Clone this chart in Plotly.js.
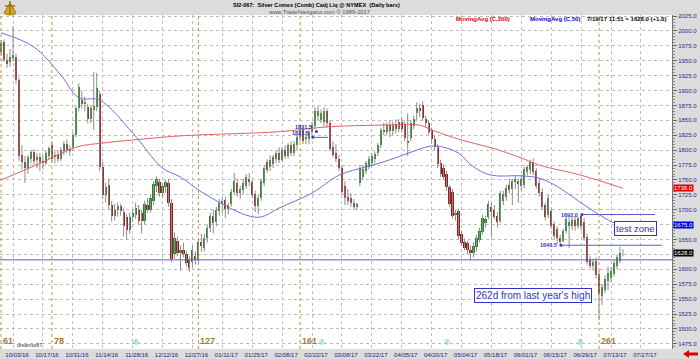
<!DOCTYPE html>
<html><head><meta charset="utf-8">
<script src="https://cdn.plot.ly/plotly-3.0.1.min.js"></script>
<style>html,body{margin:0;padding:0;background:#dcdcdc;overflow:hidden}#chart{width:700px;height:359px}</style>
</head><body><div id="chart"></div>
<script>
// ---- data (bar index 0 = 10/03/16) ----
const firstIdx = -4;
const O=[1965,1981,1951,1948,1955,1956,1918,1792,1780,1770,
1786,1797,1784,1788,1782,1779,1790,1808,1788,1792,
1786,1798,1810,1802,1806,1826,1871,1884,1878,1872,
1852,1868,1872,1895,1772,1724,1742,1708,1690,1700,
1706,1696,1688,1666,1688,1692,1700,1694,1682,1708,
1700,1715,1740,1747,1728,1738,1745,1712,1625,1648,
1628,1632,1625,1616,1612,1622,1616,1646,1636,1652,
1670,1690,1680,1698,1710,1716,1702,1710,1730,1745,
1728,1733,1740,1752,1746,1726,1706,1720,1745,1780,
1772,1776,1786,1795,1783,1800,1790,1808,1796,1808,
1822,1835,1818,1818,1830,1840,1858,1850,1848,1866,
1845,1805,1795,1786,1770,1740,1722,1720,1712,1704,
1745,1755,1765,1772,1778,1785,1796,1808,1834,1830,
1842,1832,1843,1836,1848,1842,1815,1820,1840,1862,
1870,1876,1852,1846,1834,1818,1806,1778,1770,1760,
1738,1730,1692,1698,1660,1646,1644,1632,1628,1638,
1650,1662,1678,1688,1705,1700,1690,1682,1714,1722,
1742,1735,1746,1748,1740,1742,1764,1766,1780,1765,
1745,1730,1708,1692,1698,1676,1668,1652,1648,1664,
1672,1672,1683,1672,1690,1680,1655,1616,1606,1614,
1592,1556,1566,1580,1586,1592,1606,1614,1627];
const H=[1985,1986,1962,1970,2008,1962,1922,1808,1790,1792,
1800,1802,1795,1795,1792,1800,1806,1815,1798,1800,
1805,1815,1818,1808,1830,1875,1912,1900,1890,1878,
1875,1931,1930,1900,1780,1745,1752,1715,1710,1712,
1710,1702,1692,1695,1700,1712,1708,1700,1715,1720,
1725,1748,1756,1752,1745,1750,1752,1718,1662,1655,
1640,1645,1630,1622,1640,1630,1650,1660,1660,1675,
1695,1700,1705,1718,1720,1722,1712,1735,1762,1752,
1740,1752,1760,1762,1750,1732,1725,1752,1775,1785,
1792,1792,1800,1805,1805,1808,1812,1815,1815,1826,
1840,1840,1832,1835,1848,1872,1874,1868,1872,1870,
1850,1815,1810,1792,1774,1748,1735,1728,1718,1712,
1775,1775,1782,1790,1795,1798,1812,1838,1846,1846,
1850,1848,1852,1852,1855,1848,1862,1850,1858,1880,
1878,1882,1858,1850,1838,1825,1810,1784,1776,1765,
1742,1735,1700,1702,1665,1652,1648,1640,1646,1658,
1670,1692,1690,1715,1712,1708,1696,1732,1732,1742,
1752,1752,1758,1752,1758,1772,1775,1784,1786,1770,
1752,1736,1712,1725,1702,1680,1672,1658,1668,1690,
1688,1688,1690,1688,1692,1686,1660,1622,1618,1620,
1598,1575,1590,1605,1604,1615,1625,1638,1634];
const L=[1958,1948,1938,1940,1950,1912,1782,1768,1745,1760,
1778,1775,1770,1765,1768,1775,1785,1780,1778,1780,
1782,1792,1795,1790,1800,1822,1865,1870,1865,1845,
1845,1834,1865,1765,1718,1712,1700,1680,1682,1688,
1690,1655,1650,1660,1680,1685,1675,1660,1676,1695,
1695,1708,1730,1722,1720,1728,1705,1612,1618,1622,
1598,1620,1605,1596,1604,1608,1610,1630,1630,1645,
1662,1660,1672,1690,1695,1686,1692,1705,1725,1722,
1718,1726,1735,1740,1720,1696,1693,1715,1740,1762,
1765,1770,1778,1778,1780,1785,1786,1790,1790,1800,
1815,1810,1810,1810,1822,1835,1850,1845,1840,1838,
1798,1788,1780,1765,1725,1708,1708,1705,1700,1699,
1740,1750,1760,1768,1772,1778,1790,1803,1825,1826,
1822,1825,1828,1830,1830,1815,1790,1815,1835,1850,
1855,1850,1838,1826,1812,1800,1770,1755,1750,1732,
1705,1685,1682,1650,1640,1632,1625,1616,1620,1630,
1645,1658,1670,1684,1655,1684,1670,1678,1708,1715,
1728,1708,1735,1712,1732,1736,1758,1760,1758,1735,
1722,1700,1682,1686,1668,1652,1642,1640.5,1645,1660,
1636,1666,1665,1668,1665,1648,1608,1602,1598,1585,
1515,1540,1560,1565,1578,1588,1600,1610,1622];
const C=[1980,1951,1944,1956,1960,1918,1790,1780,1770,1788,
1797,1782,1788,1780,1779,1796,1803,1786,1792,1786,
1800,1810,1800,1798,1826,1870,1906,1877,1880,1852,
1870,1874,1905,1772,1724,1738,1708,1690,1700,1706,
1698,1672,1666,1688,1694,1703,1682,1682,1710,1700,
1720,1744,1752,1728,1740,1746,1712,1618,1652,1628,
1632,1625,1610,1603,1633,1616,1646,1640,1652,1670,
1690,1678,1700,1712,1715,1702,1708,1730,1748,1728,
1735,1745,1755,1746,1725,1706,1720,1748,1770,1767,
1784,1789,1795,1783,1800,1790,1808,1796,1810,1822,
1835,1815,1822,1830,1842,1866,1866,1862,1866,1845,
1802,1792,1786,1770,1730,1720,1714,1711,1705,1710,
1770,1768,1778,1785,1790,1794,1808,1834,1830,1842,
1832,1843,1836,1848,1835,1820,1812,1845,1852,1870,
1866,1854,1845,1830,1818,1806,1776,1760,1755,1738,
1710,1690,1695,1656,1645,1636,1632,1628,1640,1652,
1664,1686,1685,1710,1696,1688,1680,1728,1726,1736,
1733,1748,1752,1744,1752,1768,1772,1780,1764,1740,
1728,1705,1688,1720,1672,1656,1652,1646,1664,1684,
1680,1683,1672,1686,1672,1652,1612,1606,1612,1590,
1558,1570,1584,1594,1598,1610,1620,1627,1628];

const ma50Idx=[-4,7,16,22,29,40,50,56,63,78,83,89,100,109,118,123,129,135,140,144,149,154,160,170,176,181,192,201,204];
const ma50Val=[1997,1973,1926,1888,1884,1829,1770,1755,1730,1691,1688,1703,1728,1758,1772,1779,1789,1800,1807,1805,1795,1772,1758,1757,1753,1742,1705,1678,1675];
const ma200Idx=[-4,10,21,30,40,56,89,105,123,136,140,150,160,170,176,190,204];
const ma200Val=[1750,1780,1805,1812,1817,1824,1831,1839,1842,1842,1834,1817,1804,1787,1775,1758,1736];

const tickIdx=[0,10,20,30,40,50,60,70,80,90,100,110,120,130,140,150,160,170,180,190,200,210];
const tickLabels=['10/03/16','10/17/16','10/31/16','11/14/16','11/28/16','12/12/16','12/27/16','01/11/17','01/25/17','02/08/17','02/22/17','03/08/17','03/22/17','04/05/17','04/20/17','05/04/17','05/18/17','06/01/17','06/15/17','06/29/17','07/13/17','07/27/17'];
const priceTicks=[1475,1500,1525,1550,1575,1600,1625,1650,1675,1700,1725,1750,1775,1800,1825,1850,1875,1900,1925,1950,1975,2000,2025];

const cycleIdx=[-4,13,62,96,196];
const cycleLabels=['61','78','127','161','261'];
const newsIdx=[41,103.5,145,189.5];

const levelVals=[1831.5,1821.5,1692.0,1640.5,1616];
const levelFrom=[101.5,100.3,190.3,183.3,-4.35];
const levelTo=[101.5,105.3,214.7,217.0,220.4];
const levelText=['1831.5','1821.5','1692.0','1640.5',''];

// ---- build ----
const idx=O.map((_,i)=>i+firstIdx);
const wx=[],wy=[];
idx.forEach((x,i)=>{wx.push(x,x,null);wy.push(L[i],H[i],null);});
const up={x:[],base:[],y:[]},dn={x:[],base:[],y:[]};
idx.forEach((x,i)=>{const t=C[i]>=O[i]?up:dn;t.x.push(x);t.base.push(Math.min(O[i],C[i]));t.y.push(Math.max(Math.abs(C[i]-O[i]),0.9));});

const ML=0,MT=15,PW=672,PH=334;
const px=x=>(x-ML)/PW, py=y=>1-(y-MT)/PH;
const F='Liberation Sans, Arial, sans-serif';
const BLUE='#3434c4';

const traces=[
 {type:'scatter',mode:'lines',x:wx,y:wy,line:{color:'#8c8c8c',width:1},hoverinfo:'skip'},
 {type:'bar',x:up.x,base:up.base,y:up.y,width:0.72,marker:{color:'#1f8a1f',line:{width:0}}},
 {type:'bar',x:dn.x,base:dn.base,y:dn.y,width:0.72,marker:{color:'#9e1a1a',line:{width:0}}},
 {type:'scatter',mode:'lines',x:ma200Idx,y:ma200Val,line:{color:'#e06262',width:1,shape:'spline',smoothing:1}},
 {type:'scatter',mode:'lines',x:ma50Idx,y:ma50Val,line:{color:'#7070d8',width:1,shape:'spline',smoothing:1}},
 {type:'scatter',mode:'markers',x:levelFrom.slice(0,4),y:levelVals.slice(0,4),marker:{color:BLUE,size:3}}
];

const shapes=[];
levelVals.forEach((v,i)=>{ if(levelTo[i]>levelFrom[i]) shapes.push({type:'line',xref:'x',yref:'y',x0:levelFrom[i],x1:levelTo[i],y0:v,y1:v,line:{color:'#5a5ad0',width:1}});});
cycleIdx.forEach(c=>shapes.push({type:'line',xref:'x',yref:'paper',x0:c,x1:c,y0:0,y1:1,line:{color:'#c09050',width:1,dash:'dot'}}));
const arr=[[683,354],[689,350],[689,352.6],[698,352.6],[698,355.4],[689,355.4],[689,358]];
shapes.push({type:'path',xref:'paper',yref:'paper',path:'M'+arr.map(p=>px(p[0])+','+py(p[1])).join(' L')+' Z',fillcolor:'#e00000',line:{width:0}});
shapes.push({type:'path',xref:'paper',yref:'paper',path:'M'+px(4)+','+py(13)+' Q'+px(10)+','+py(17)+' '+px(16)+','+py(13)+' L'+px(10)+','+py(3)+' Z',fillcolor:'#d8a820',line:{color:'#a07010',width:1}});
shapes.push({type:'line',xref:'paper',yref:'paper',x0:px(10),x1:px(10),y0:py(1),y1:py(14),line:{color:'#a07010',width:1.5}});
shapes.push({type:'line',xref:'paper',yref:'paper',x0:px(5),x1:px(15),y0:py(6),y1:py(6),line:{color:'#a07010',width:1.5}});

const ann=[];
const A=(x,y,text,o)=>ann.push(Object.assign({xref:'paper',yref:'paper',x:px(x),y:py(y),text:text,showarrow:false,xanchor:'center',yanchor:'middle',font:{family:F,size:6,color:'#000'}},o||{}));
A(316,5,'<b>SI2-067:  Silver Comex (Comb) Cadj Liq @ NYMEX  (Daily bars)</b>',{font:{family:F,size:5.6,color:'#000'}});
A(319,12,'www.TradeNavigator.com © 1989-2017',{font:{family:F,size:5.8,color:'#555'}});
A(512,19,'<b>MovingAvg (C,200)</b>',{xanchor:'right',font:{family:F,size:6,color:'#e00000'}});
A(582,19,'<b>MovingAvg (C,50)</b>',{xanchor:'right',font:{family:F,size:6,color:'#0000d0'}});
A(668,19,'<b>7/19/17 11:51 = '+C[C.length-1].toFixed(1)+' (+1.0)</b>',{xanchor:'right',font:{family:F,size:6,color:'#000'}});
A(635,228,'test zone',{font:{family:F,size:9.5,color:BLUE},bgcolor:'#fff',bordercolor:BLUE,borderwidth:1,borderpad:1});
A(533,295,"262d from last year's high",{font:{family:F,size:10,color:BLUE},bgcolor:'#fff',bordercolor:BLUE,borderwidth:1,borderpad:1});
A(15,345,'dreamsoft7',{xanchor:'left',font:{family:F,size:5,color:'#333'}});
levelText.forEach((t,i)=>{ if(t) ann.push({xref:'x',yref:'y',x:levelFrom[i],y:levelVals[i],text:'<b>'+t+'</b>',showarrow:false,xanchor:'right',yanchor:'middle',xshift:-2,yshift:(i<2?4:0),font:{family:F,size:5.5,color:BLUE}});});
cycleIdx.forEach((c,i)=>ann.push({xref:'x',yref:'paper',x:c,y:py(341),text:'<b>'+cycleLabels[i]+'</b>',showarrow:false,xanchor:'left',yanchor:'middle',xshift:0,font:{family:F,size:9,color:'#a87a30'}}));
newsIdx.forEach(c=>ann.push({xref:'x',yref:'paper',x:c,y:py(342),text:'®',showarrow:false,xanchor:'center',yanchor:'middle',font:{family:F,size:8,color:'#40c0c0'}}));
const tagVals=[ma200Val[ma200Val.length-1],ma50Val[ma50Val.length-1],C[C.length-1]];
const tagCols=['#e00000','#0000e0','#000'];
tagVals.forEach((v,i)=>ann.push({xref:'paper',yref:'y',x:px(673),y:v,text:v.toFixed(1),showarrow:false,xanchor:'left',yanchor:'middle',bgcolor:tagCols[i],borderpad:0,font:{family:F,size:6,color:'#fff'}}));
const yText=priceTicks.map(v=>tagVals.some(t=>Math.abs(t-v)<7)?'':v.toFixed(1));

const layout={
 width:700,height:359,margin:{l:ML,r:700-ML-PW,t:MT,b:359-MT-PH,pad:0},
 paper_bgcolor:'#dcdcdc',plot_bgcolor:'#ffffff',showlegend:false,barmode:'overlay',bargap:0,
 xaxis:{range:[-4.35,220.4],tickmode:'array',tickvals:tickIdx,ticktext:tickLabels,showgrid:true,gridcolor:'#bdbdbd',griddash:'dot',gridwidth:1,
   zeroline:false,showline:false,ticks:'',ticklabelshift:4,ticklabelstandoff:1,tickfont:{family:F,size:6,color:'#20208a'},fixedrange:true},
 yaxis:{side:'right',range:[1466.4,2026.8],tickmode:'array',tickvals:priceTicks,ticktext:yText,showgrid:true,gridcolor:'#bdbdbd',griddash:'dot',gridwidth:1,
   zeroline:false,showline:true,linecolor:'#777',linewidth:1,ticks:'outside',ticklen:4,tickcolor:'#666',
   minor:{dtick:5,tick0:0,ticks:'outside',ticklen:2,tickcolor:'#888',showgrid:false},
   tickfont:{family:F,size:6,color:'#2a2a8a'},fixedrange:true},
 shapes:shapes,annotations:ann
};
Plotly.newPlot('chart',traces,layout,{displayModeBar:false,staticPlot:true});
</script></body></html>
